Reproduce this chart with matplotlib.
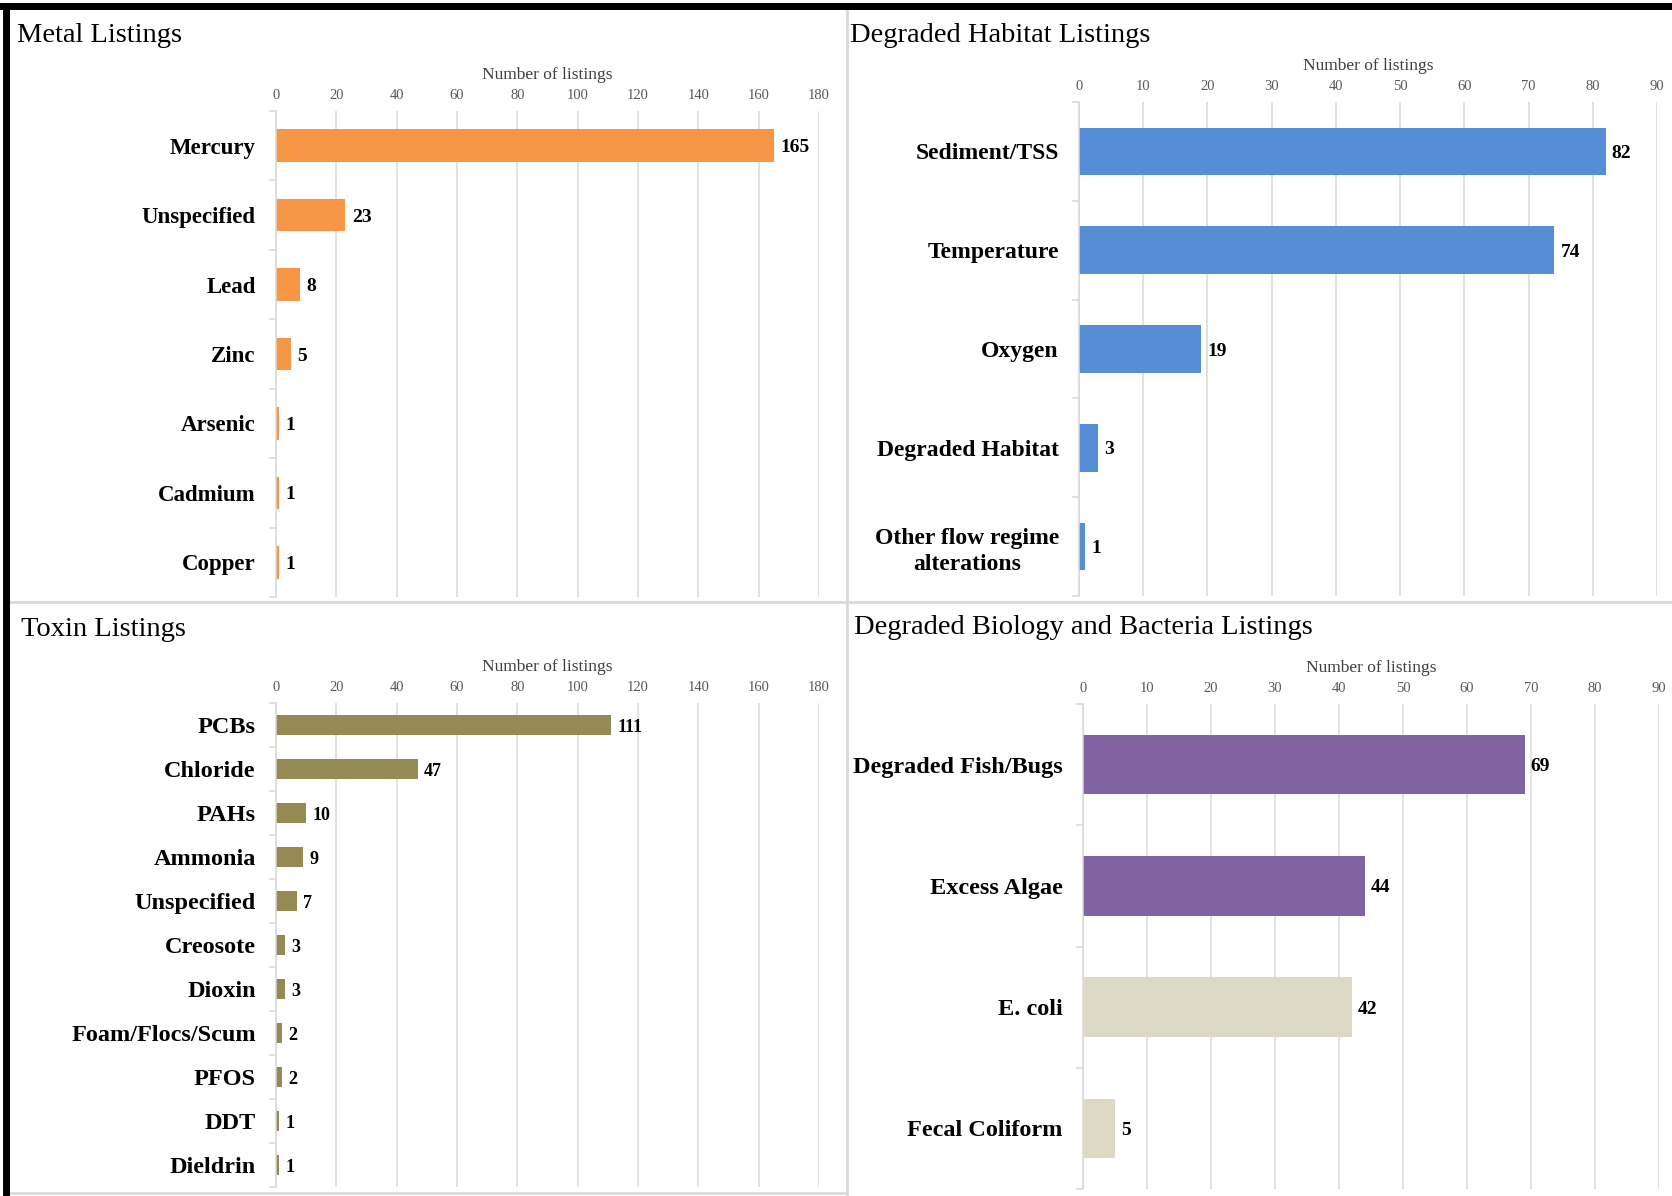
"""Four Excel-style horizontal bar panels of impairment listings."""

import matplotlib.pyplot as plt
from matplotlib.lines import Line2D

W, H = 1672, 1196

metal_labels = ['Mercury', 'Unspecified', 'Lead', 'Zinc', 'Arsenic',
                'Cadmium', 'Copper']
metal_values = [165, 23, 8, 5, 1, 1, 1]

habitat_labels = ['Sediment/TSS', 'Temperature', 'Oxygen',
                  'Degraded Habitat', 'Other flow regime\nalterations']
habitat_values = [82, 74, 19, 3, 1]

toxin_labels = ['PCBs', 'Chloride', 'PAHs', 'Ammonia', 'Unspecified',
                'Creosote', 'Dioxin', 'Foam/Flocs/Scum', 'PFOS', 'DDT',
                'Dieldrin']
toxin_values = [111, 47, 10, 9, 7, 3, 3, 2, 2, 1, 1]

bio_labels = ['Degraded Fish/Bugs', 'Excess Algae', 'E. coli',
              'Fecal Coliform']
bio_values = [69, 44, 42, 5]

ORANGE = '#F79646'
BLUE = '#558ED5'
OLIVE = '#948A54'
PURPLE = '#8064A2'
BEIGE = '#DDD9C4'
GRID = '#D9D9D9'

plt.rcParams['font.family'] = ['Liberation Serif', 'DejaVu Serif']


def px_rect(x0, x1, top, bottom):
    """Axes rectangle from pixel coordinates (origin top left)."""
    return [x0 / W, 1 - bottom / H, (x1 - x0) / W, (bottom - top) / H]


def panel(fig, rect, labels, values, colors, xmax, step, height,
          label_size, value_size):
    ax = fig.add_axes(rect)
    n = len(labels)
    y = list(range(n))
    ax.barh(y, values, height=height, color=colors, zorder=2)
    for yi, v in zip(y, values):
        ax.annotate(str(v), (v, yi), xytext=(4.5, -1.5),
                    textcoords='offset points', ha='left', va='center',
                    fontsize=value_size, fontweight='bold')

    ax.set_xlim(0, xmax)
    ax.set_ylim(n - 0.5, -0.5)
    ax.xaxis.tick_top()
    ax.xaxis.set_label_position('top')
    ax.set_xticks(range(0, xmax + 1, step))
    ax.tick_params(axis='x', length=0, pad=6.5, labelsize=10.5,
                   labelcolor='#595959')
    ax.set_xlabel('Number of listings', fontsize=12.5, color='#404040',
                  labelpad=7.5)
    ax.grid(axis='x', color=GRID, lw=1.1, zorder=0)

    ax.set_yticks(y)
    ax.set_yticklabels(labels, fontsize=label_size, fontweight='bold',
                       linespacing=1.3)
    for lbl in ax.get_yticklabels():
        lbl.set_multialignment('center')
    ax.set_yticks([k - 0.5 for k in range(n + 1)], minor=True)
    ax.tick_params(axis='y', which='major', length=0, pad=14.5)
    ax.tick_params(axis='y', which='minor', length=5, color=GRID, width=1.1)

    for side in ('top', 'right', 'bottom'):
        ax.spines[side].set_visible(False)
    ax.spines['left'].set_color(GRID)
    ax.spines['left'].set_linewidth(1.1)
    return ax


def main():
    fig = plt.figure(figsize=(W / 100, H / 100), dpi=100)

    panel(fig, px_rect(276, 819, 111, 597), metal_labels, metal_values,
          ORANGE, 180, 20, 0.47, 16.5, 14)
    panel(fig, px_rect(1079, 1657, 102, 596), habitat_labels, habitat_values,
          BLUE, 90, 10, 0.48, 17, 14)
    panel(fig, px_rect(276, 819, 703, 1187), toxin_labels, toxin_values,
          OLIVE, 180, 20, 0.46, 17.5, 13)
    panel(fig, px_rect(1083, 1659, 704, 1189), bio_labels, bio_values,
          [PURPLE, PURPLE, BEIGE, BEIGE], 90, 10, 0.49, 17.5, 14)

    # panel titles
    titles = [(17, 35, 'Metal Listings'),
              (850, 35, 'Degraded Habitat Listings'),
              (21, 629, 'Toxin Listings'),
              (854, 628, 'Degraded Biology and Bacteria Listings')]
    for x, y, text in titles:
        fig.text(x / W, 1 - y / H, text, fontsize=20.5, ha='left',
                 va='center', color='black')

    # light gray panel dividers
    def line(x0, y0, x1, y1, color, lw):
        fig.add_artist(Line2D([x0 / W, x1 / W], [1 - y0 / H, 1 - y1 / H],
                              color=color, lw=lw,
                              transform=fig.transFigure))

    line(847, 8, 847, H, GRID, 2)
    line(8, 602, W, 602, GRID, 2)
    line(8, 1193, 847, 1193, GRID, 2)

    # black frame on the left and top
    line(6, 6, 6, H, 'black', 5)
    line(3, 6, W, 6, 'black', 5)

    fig.savefig('out.png', dpi=100)


if __name__ == '__main__':
    main()
